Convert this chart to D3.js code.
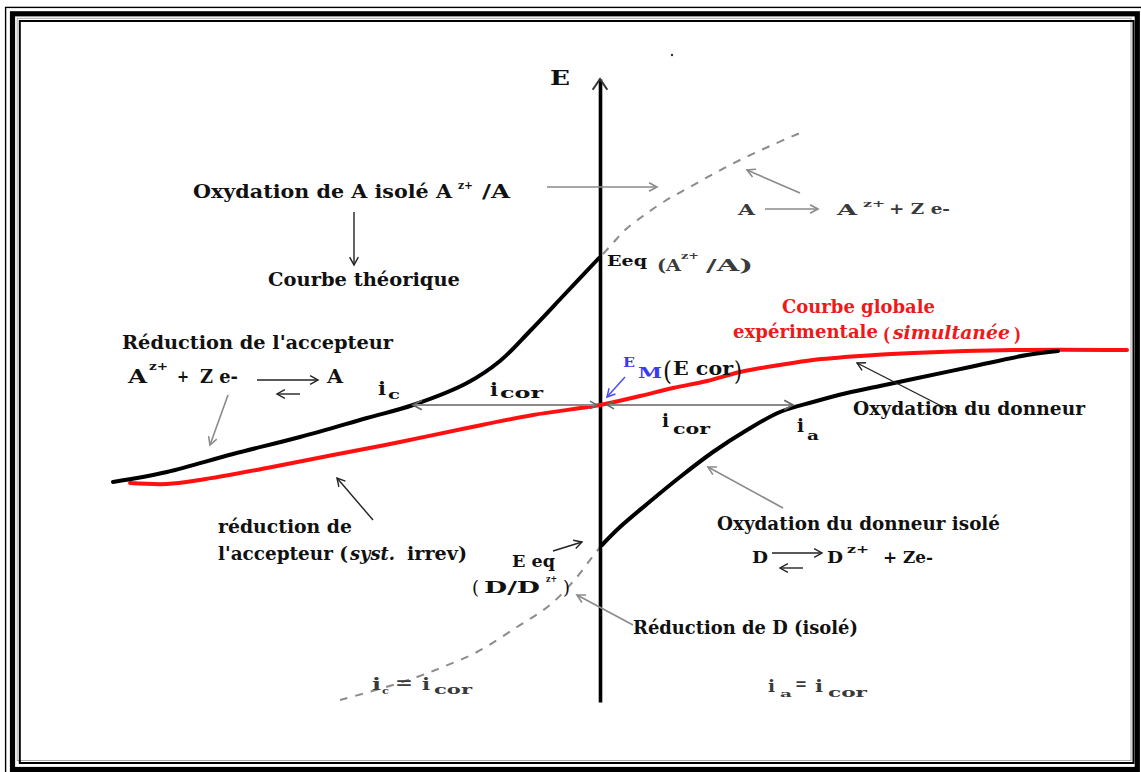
<!DOCTYPE html>
<html><head><meta charset="utf-8">
<script src="https://cdn.jsdelivr.net/npm/d3@7"></script>
<style>html,body{margin:0;padding:0;background:#fff;}svg{display:block}</style>
</head><body>
<svg id="c" width="1141" height="772"></svg>
<script>
// ---- Data (i = current, E = potential; arbitrary units) ----
const reductionA = [[-48.7,-7.7],[-43.3,-6.7],[-36.7,-4.9],[-30,-3.2],[-23.3,-1.3],[-18.7,0],[-13.3,2.2],[-10,4.4],[-7,7.4],[-3.5,11.1],[-0.1,14.7]];
const globalCurve = [[-47,-7.8],[-43.3,-7.9],[-40,-7.5],[-33.3,-6.3],[-26.7,-5],[-20,-3.7],[-13.3,-2.3],[-6.7,-1],[0,0],[4,0.9],[7.3,1.7],[10.7,2.4],[14,3.3],[18,4],[21.3,4.5],[26,4.9],[31.3,5.2],[41.3,5.5],[52.7,5.5]];
const oxidationD = [[0.2,-14],[2,-12.2],[4.7,-9.9],[8,-7.2],[11.3,-4.7],[14.7,-2.5],[18,-0.7],[21.3,0.3],[24.7,1.2],[28,1.9],[31.3,2.6],[37,3.8],[42.7,5],[45.8,5.4]];
const oxidationA = [[0.3,15.1],[1.3,16.2],[2.5,17.5],[4.3,18.9],[6.5,20.4],[9,21.8],[11.5,23.2],[14,24.5],[17,25.9],[20,27.2]];
const reductionD = [[0.2,-14],[-0.7,-15.1],[-2.3,-17.2],[-5,-20],[-8.3,-22.2],[-12.3,-24.7],[-15.7,-26.2],[-18.3,-27.2],[-21.7,-28.3],[-26,-29.5]];
const axisExtent = [-29.7, 32.6];
const icorLeft = [-0.3, -18.7];
const icorRight = [0.7, 19.3];

// label texts with anchor (i, E)
const labels = [
 ["E",-5,32,20,20,"b"],
 ["Oxydation de A isolé A",-40.7,20.7,19,259,"b"],
 ["z+",-14.2,21.6,11,15,"b"],
 ["/A",-11.8,20.7,19,28,"b"],
 ["Courbe théorique",-33.2,11.9,19,192,"b"],
 ["Réduction de l'accepteur",-47.8,5.6,19,271,"b"],
 ["A",-47.2,2.2,18,19,"b"],
 ["z+",-45.1,3.5,11,19,"b"],
 ["+",-42.3,2.3,16,12,"b"],
 ["Z e-",-40,2.2,18,38,"b"],
 ["A",-27.3,2.2,18,16,"b"],
 ["i",-22.2,1.0,18,8,"b"],
 ["c",-21.2,0.6,12,12,"b"],
 ["i",-11,0.9,18,8,"b"],
 ["cor",-10,0.7,14,43,"b"],
 ["i",6.2,-2.2,18,7,"b"],
 ["cor",7.3,-2.9,14,37,"b"],
 ["i",19.7,-2.7,18,7,"b"],
 ["a",20.7,-3.5,12,12,"b"],
 ["Eeq",0.7,13.9,14,40,"b"],
 ["(A",5.7,13.4,16,24,"g"],
 ["z+",8.1,14.6,10,18,"g"],
 ["/A)",10.6,13.4,16,47,"g"],
 ["A",13.8,19,15,17,"g"],
 ["A",23.7,19,15,20,"g"],
 ["z+",26.3,19.8,10,22,"g"],
 ["+ Z  e-",28.9,19.1,15,61,"g"],
 ["Courbe globale",18.2,9.2,18,153,"r"],
 ["expérimentale",13.3,6.7,18,145,"r"],
 ["(",28.3,6.4,18,7,"r"],
 ["simultanée",29.3,6.6,18,117,"ri"],
 [")",41.4,6.4,18,7,"r"],
 ["E",2.3,3.8,12,12,"u"],
 ["M",3.8,2.7,15,24,"u"],
 ["(",6.3,2.5,26,9,"n"],
 ["E cor",7.3,3.0,18,60,"b"],
 [")",13.4,2.5,26,8,"n"],
 ["Oxydation du donneur",25.3,-1,19,232,"b"],
 ["Oxydation du donneur isolé",11.7,-12.5,19,283,"b"],
 ["D",15.2,-15.8,17,16,"b"],
 ["D",22.7,-15.8,17,16,"b"],
 ["z+",24.7,-14.8,11,22,"b"],
 ["+  Ze-",28.3,-15.8,17,50,"b"],
 ["Réduction de D (isolé)",3.3,-22.9,19,225,"b"],
 ["réduction de",-38.2,-12.8,19,134,"b"],
 ["l'accepteur (",-38.2,-15.5,19,130,"b"],
 ["syst.",-25,-15.5,19,45,"bi"],
 ["irrev)",-19.3,-15.5,19,60,"b"],
 ["E eq",-8.8,-16.2,16,43,"b"],
 ["(",-12.8,-18.9,18,7,"n"],
 ["D/D",-11.6,-18.8,16,56,"b"],
 ["z+",-5.4,-17.7,10,11,"b"],
 [")",-3.7,-18.9,18,7,"n"],
 ["i",-22.8,-28.5,16,9,"g"],
 ["c",-21.8,-28.9,10,7,"g"],
 ["=",-20.5,-28.3,16,18,"g"],
 ["i",-17.8,-28.5,16,8,"g"],
 ["cor",-16.6,-28.9,12,38,"g"],
 ["i",16.8,-28.7,16,7,"g"],
 ["a",18,-29.2,10,12,"g"],
 ["=",19.5,-28.4,16,12,"g"],
 ["i",21.5,-28.7,16,8,"g"],
 ["cor",22.8,-29.2,12,39,"g"]
];

// pointer arrows [kind, i0, E0, i1, E1]
const pointers = [
 ["g",-5.3,21.8,5.7,21.8],
 ["d",-24.6,19.3,-24.6,14],
 ["g",20,21.2,14.7,23.5],
 ["g",-37.2,1,-39,-4],
 ["d",-22.7,-11.5,-26.3,-7.3],
 ["u",2.5,2.8,0.7,0.8],
 ["d",35.7,-0.9,25.7,4.2],
 ["g",18.3,-10.3,10.8,-6.2],
 ["g",3.3,-22,-2.3,-19],
 ["d",-4.7,-14.6,-1.8,-13.7],
 ["d",-34.3,2.5,-28.2,2.5],
 ["d",-30,1.1,-32.3,1.1],
 ["g",16.5,19.6,21.8,19.6],
 ["d",17.2,-14.8,22.2,-14.8],
 ["d",20.3,-16.3,18,-16.3]
];

// ---- Drawing ----
const W = 1141, H = 772;
const svg = d3.select("#c");
const xS = d3.scaleLinear().domain([-50,50]).range([100,1100]);
const yS = d3.scaleLinear().domain([-30,30]).range([705,105]);

// frame
const fr = svg.append("g").attr("fill","none");
fr.append("rect").attr("x",5.6).attr("y",7.4).attr("width",W+20).attr("height",H+20).attr("stroke","#000").attr("stroke-width",1.4);
fr.append("rect").attr("x",12.5).attr("y",13.8).attr("width",1137.3-12.5).attr("height",769.5-13.8).attr("stroke","#000").attr("stroke-width",5.2);
fr.append("rect").attr("x",17.2).attr("y",18.3).attr("width",1131-17.2).attr("height",760.5-18.3).attr("stroke","#aaa").attr("stroke-width",1);
fr.append("rect").attr("x",19.8).attr("y",21).attr("width",1133.5-19.8).attr("height",763-21).attr("stroke","#000").attr("stroke-width",2);

const line = d3.line().x(d=>xS(d[0])).y(d=>yS(d[1])).curve(d3.curveCatmullRom.alpha(0.5));

// dashed theoretical continuations
[oxidationA, reductionD].forEach(s=>{
  svg.append("path").attr("d",line(s)).attr("fill","none").attr("stroke","#8c8c8c")
    .attr("stroke-width",2).attr("stroke-dasharray","8,8");
});

// axis E
const yAx = d3.scaleLinear().domain(axisExtent).range([yS(axisExtent[0]), yS(axisExtent[1])]);
const ax = svg.append("g").attr("transform",`translate(${xS(0)},0)`).call(d3.axisLeft(yAx).tickValues([]).tickSizeOuter(0));
ax.select(".domain").attr("stroke","#000").attr("stroke-width",3.6);

function head(g, x0,y0,x1,y1,color,w,size,ang){
  const a = Math.atan2(y1-y0,x1-x0);
  const p = [[x1 - size*Math.cos(a-ang), y1 - size*Math.sin(a-ang)],[x1,y1],[x1 - size*Math.cos(a+ang), y1 - size*Math.sin(a+ang)]];
  g.append("path").attr("d",d3.line()(p)).attr("fill","none").attr("stroke",color).attr("stroke-width",w);
}
// axis arrow head
head(svg, xS(0), yS(0), xS(0), yS(axisExtent[1]), "#333", 2, 13, 0.6);

// curves
svg.append("path").attr("d",line(globalCurve)).attr("fill","none").attr("stroke","#ff1010").attr("stroke-width",4).attr("stroke-linecap","round");
svg.append("path").attr("d",line(reductionA)).attr("fill","none").attr("stroke","#000").attr("stroke-width",4).attr("stroke-linecap","round");
svg.append("path").attr("d",line(oxidationD)).attr("fill","none").attr("stroke","#000").attr("stroke-width",4).attr("stroke-linecap","round");

// icor double arrows
[icorLeft, icorRight].forEach(r=>{
  const x0 = xS(r[0]), x1 = xS(r[1]), y = yS(0);
  svg.append("line").attr("x1",x0).attr("x2",x1).attr("y1",y).attr("y2",y).attr("stroke","#8a8a8a").attr("stroke-width",2);
  head(svg, x0,y,x1,y,"#666",1.8,10,0.5);
  head(svg, x1,y,x0,y,"#666",1.5,8,0.5);
});

// pointers
const pc = {g:["#8a8a8a",1.6], d:["#222",1.4], u:["#4a4aff",1.5]};
pointers.forEach(p=>{
  const [k,i0,e0,i1,e1] = p;
  const x0=xS(i0), y0=yS(e0), x1=xS(i1), y1=yS(e1);
  svg.append("line").attr("x1",x0).attr("y1",y0).attr("x2",x1).attr("y2",y1).attr("stroke",pc[k][0]).attr("stroke-width",pc[k][1]);
  head(svg,x0,y0,x1,y1,pc[k][0],pc[k][1],9,0.5);
});

// dot
svg.append("circle").attr("cx",xS(7.2)).attr("cy",yS(35)).attr("r",1.2).attr("fill","#333");

// labels
const st = {
  b:{fill:"#111",w:"bold",s:"normal"},
  g:{fill:"#3a3a3a",w:"bold",s:"normal"},
  r:{fill:"#ee1a1a",w:"bold",s:"normal"},
  ri:{fill:"#ee1a1a",w:"bold",s:"italic"},
  u:{fill:"#3a3af0",w:"bold",s:"normal"},
  n:{fill:"#111",w:"normal",s:"normal"},
  bi:{fill:"#111",w:"bold",s:"italic"}
};
labels.forEach(l=>{
  const [t,i,e,size,wd,k] = l;
  svg.append("text").attr("x",xS(i)).attr("y",yS(e))
    .attr("font-family","'DejaVu Serif', serif").attr("font-size",size)
    .attr("font-weight",st[k].w).attr("font-style",st[k].s).attr("fill",st[k].fill)
    .attr("textLength",wd).attr("lengthAdjust","spacingAndGlyphs")
    .text(t);
});
</script>
</body></html>
